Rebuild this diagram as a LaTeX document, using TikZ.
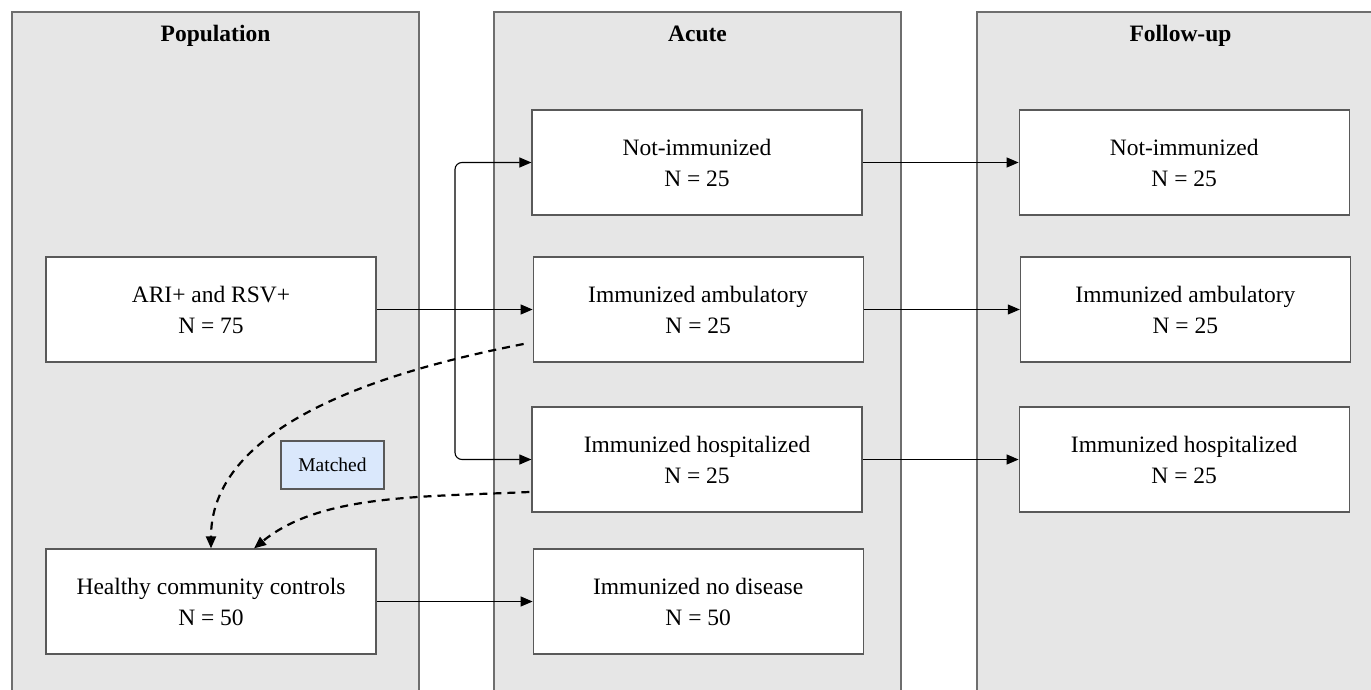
\documentclass[tikz,border=0pt]{standalone}
\usepackage{fontspec}
\setmainfont{Liberation Serif}
\usetikzlibrary{arrows.meta, positioning}
\definecolor{panelgray}{HTML}{E6E6E6}
\definecolor{edgegray}{HTML}{6E6E6E}
\definecolor{matchblue}{HTML}{DAE8FC}

\begin{document}
\begin{tikzpicture}[x=1pt, y=-1pt, >={Triangle[length=12pt, width=10pt]}, node distance=156pt,
	panel/.style={fill=panelgray, draw=edgegray, line width=1.5pt},
	heading/.style={anchor=base, font=\fontsize{23.5}{28}\selectfont\bfseries},
	group/.style={draw=black!65, line width=1.2pt, fill=white, minimum width=330pt, minimum height=105pt, align=center, font=\fontsize{23.5}{31}\selectfont},
	matchbox/.style={draw=black!65, line width=1.2pt, fill=matchblue, minimum width=103pt, minimum height=48pt, font=\fontsize{19.5}{23}\selectfont},
	flow/.style={->, line width=1.1pt},
	matching/.style={->, dash pattern=on 8pt off 6pt, line width=2.2pt}]
	\useasboundingbox (0,0) rectangle (1371,690);
	\clip (0,0) rectangle (1371,690);

	\draw[panel] (12,12) rectangle (419,720);
	\draw[panel] (494,12) rectangle (901,720);
	\draw[panel] (977,12) rectangle (1384,720);
	\node[heading] (popTitle) at (215.5,42) {Population};
	\node[heading] (acuteTitle) at (697.5,42) {Acute};
	\node[heading] (followTitle) at (1180.5,42) {Follow-up};

	\node[group] (ARI) at (211,309.5) {ARI+ and RSV+\\N = 75};
	\node[group] (HC) at (211,601.5) {Healthy community controls\\N = 50};
	\node[group] (NIA) at (697,162.5) {Not-immunized\\N = 25};
	\node[group] (IAA) [right=of ARI] {Immunized ambulatory\\N = 25};
	\node[group] (IHA) at (697,459.5) {Immunized hospitalized\\N = 25};
	\node[group] (IND) [right=of HC] {Immunized no disease\\N = 50};
	\node[group] (NIF) [right=of NIA] {Not-immunized\\N = 25};
	\node[group] (IAF) [right=of IAA] {Immunized ambulatory\\N = 25};
	\node[group] (IHF) [right=of IHA] {Immunized hospitalized\\N = 25};
	\node[matchbox] (matched) at (332.5,465) {Matched};

	\coordinate (split) at (455,309.5);
	\coordinate (fromIA) at ([shift={(-9,34.5)}]IAA.west);
	\coordinate (fromIH) at ([shift={(-2,32.5)}]IHA.west);

	\draw[flow] (ARI) -- (IAA);
	\draw[flow, rounded corners=7pt] (split) |- (NIA.west);
	\draw[flow, rounded corners=7pt] (split) |- (IHA.west);
	\draw[flow] (HC) -- (IND);
	\draw[flow] (NIA) -- (NIF);
	\draw[flow] (IAA) -- (IAF);
	\draw[flow] (IHA) -- (IHF);
	\draw[matching] (fromIA) .. controls +(-123,24) and +(0,-129) .. (HC.north);
	\draw[matching] (fromIH) .. controls +(-110,5) and +(66,-54) .. ([xshift=43pt]HC.north);
\end{tikzpicture}
\end{document}
